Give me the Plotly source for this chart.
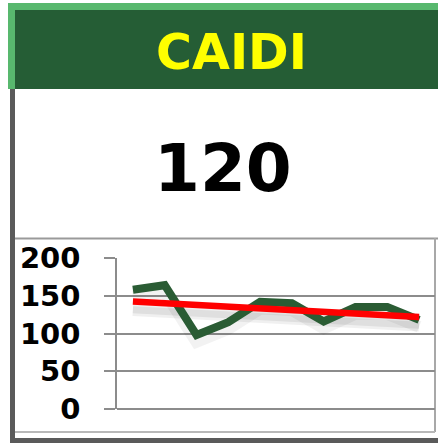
import numpy as np
import plotly.graph_objects as go

# ---- data ----
title_text = "CAIDI"
current_value = "120"
periods = list(range(10))
caidi_values = [158, 164, 98, 115, 142, 140, 116, 135, 135, 118]
y_tick_vals = [0, 50, 100, 150, 200]
y_tick_text = ["0", "50", "100", "150", "200"]

# linear trend line (as in the spreadsheet trendline)
slope, intercept = np.polyfit(periods, caidi_values, 1)
trend_values = [slope * p + intercept for p in periods]

# ---- geometry helpers ----
W, H = 438, 443
ML, MR, MT, MB = 117, 3, 258, 34
PW, PH = W - ML - MR, H - MT - MB


def px(x):
    return (x - ML) / PW


def py(y):
    return (H - MB - y) / PH


fig = go.Figure()

# soft shadows
fig.add_trace(go.Scatter(x=periods, y=[v - 9 for v in caidi_values], mode="lines",
                         line=dict(color="rgba(0,0,0,0.05)", width=12), hoverinfo="skip",
                         showlegend=False))
fig.add_trace(go.Scatter(x=periods, y=[v - 10 for v in trend_values], mode="lines",
                         line=dict(color="rgba(0,0,0,0.06)", width=14), hoverinfo="skip",
                         showlegend=False))
fig.add_trace(go.Scatter(x=periods, y=[v - 11 for v in trend_values], mode="lines",
                         line=dict(color="rgba(0,0,0,0.07)", width=7), hoverinfo="skip",
                         showlegend=False))

fig.add_trace(go.Scatter(x=periods, y=caidi_values, mode="lines",
                         line=dict(color="#2a5c34", width=8), showlegend=False))
fig.add_trace(go.Scatter(x=periods, y=trend_values, mode="lines",
                         line=dict(color="#ff0000", width=6.5), showlegend=False))

shapes = []
# header: light green frame + dark green fill
shapes.append(dict(type="rect", xref="paper", yref="paper", x0=px(8), x1=px(438),
                   y0=py(89), y1=py(3), fillcolor="#58b86e", line=dict(width=0), layer="below"))
shapes.append(dict(type="rect", xref="paper", yref="paper", x0=px(15), x1=px(438),
                   y0=py(89), y1=py(10), fillcolor="#255d35", line=dict(width=0), layer="below"))
# dark grey left border below header
shapes.append(dict(type="rect", xref="paper", yref="paper", x0=px(10), x1=px(15),
                   y0=py(443), y1=py(89), fillcolor="#5a5a5a", line=dict(width=0), layer="below"))
# bottom dark band
shapes.append(dict(type="rect", xref="paper", yref="paper", x0=px(10), x1=px(438),
                   y0=py(443), y1=py(438), fillcolor="#5a5a5a", line=dict(width=0), layer="below"))
# separator between value and chart
shapes.append(dict(type="line", xref="paper", yref="paper", x0=px(15), x1=px(438),
                   y0=py(238.5), y1=py(238.5), line=dict(color="#9a9a9a", width=2), layer="below"))
# chart frame right and bottom
shapes.append(dict(type="line", xref="paper", yref="paper", x0=px(435), x1=px(435),
                   y0=py(432), y1=py(238), line=dict(color="#a8a8a8", width=2), layer="below"))
shapes.append(dict(type="line", xref="paper", yref="paper", x0=px(15), x1=px(435),
                   y0=py(432), y1=py(432), line=dict(color="#b8b8b8", width=2), layer="below"))

annotations = [
    dict(text="<b>%s</b>" % title_text, xref="paper", yref="paper", x=px(231), y=py(52),
         xanchor="center", yanchor="middle", showarrow=False,
         font=dict(family="DejaVu Sans", size=49, color="#ffff00")),
    dict(text="<b>%s</b>" % current_value, xref="paper", yref="paper", x=px(223), y=py(168),
         xanchor="center", yanchor="middle", showarrow=False,
         font=dict(family="DejaVu Sans", size=66, color="#000000")),
]

grid_c = "#8c8c8c"
fig.update_layout(
    width=W, height=H,
    margin=dict(l=ML, r=MR, t=MT, b=MB, autoexpand=False),
    paper_bgcolor="white", plot_bgcolor="white",
    shapes=shapes, annotations=annotations,
    xaxis=dict(range=[-0.5, 9.5], showgrid=False, showticklabels=False, showline=False,
               zeroline=False, ticks=""),
    yaxis=dict(range=[0, 200], tickvals=y_tick_vals, ticktext=y_tick_text,
               showgrid=True, gridcolor=grid_c, gridwidth=1.5,
               zeroline=True, zerolinecolor=grid_c, zerolinewidth=1.5,
               showline=True, linecolor=grid_c, linewidth=1.5,
               ticks="outside", ticklen=11, tickcolor=grid_c, tickwidth=1.5,
               ticklabelstandoff=18,
               tickfont=dict(family="DejaVu Sans", size=29, color="black", weight="bold")),
)

fig.write_html(
    "out.html",
    config={"displayModeBar": False},
    post_script="document.body.style.margin='0';document.body.style.overflow='hidden';",
)
